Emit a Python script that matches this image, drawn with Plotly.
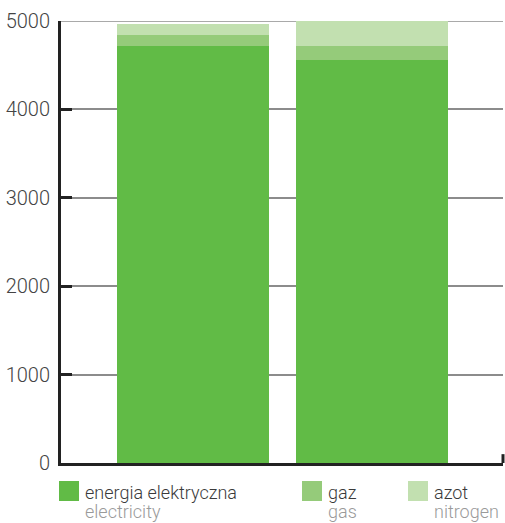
import plotly.graph_objects as go

# Stacked energy use per column (two columns, no category labels)
positions = [0, 1]
electricity = [4720, 4560]
gas = [125, 160]
nitrogen = [125, 280]

series_pl = ["energia elektryczna", "gaz", "azot"]
series_en = ["electricity", "gas", "nitrogen"]
colors = ["#61BB46", "#95CB7A", "#C2E0B0"]
y_ticks = [0, 1000, 2000, 3000, 4000, 5000]

fig = go.Figure()
for vals, name, col in zip([electricity, gas, nitrogen], series_pl, colors):
    fig.add_trace(go.Bar(x=positions, y=vals, name=name, marker=dict(color=col, line=dict(width=0)),
                         width=0.85, showlegend=False))

fig.update_layout(
    barmode="stack",
    width=505, height=523,
    margin=dict(l=61, r=2, t=21, b=60),
    paper_bgcolor="white", plot_bgcolor="white",
    font=dict(family="Roboto", color="#333333"),
    xaxis=dict(range=[-0.737, 1.732], showticklabels=False, showgrid=False, zeroline=False,
               showline=True, linecolor="#222222", linewidth=3, ticks=""),
    yaxis=dict(range=[0, 5000], tickvals=y_ticks, ticktext=[str(v) for v in y_ticks],
               showgrid=True, gridcolor="#8c8c8c", gridwidth=1.5, zeroline=False,
               showline=True, linecolor="#222222", linewidth=3,
               ticks="inside", ticklen=11, tickwidth=3, tickcolor="#222222",
               tickfont=dict(size=20, color="#444444", family="Roboto", weight=300),
               ticklabelstandoff=4),
)

# Top gridline at the range edge
fig.add_shape(type="line", xref="paper", yref="y", x0=0, x1=1, y0=5000, y1=5000,
              line=dict(color="#8c8c8c", width=1.5), layer="below")

# Small upward tick at the right end of the baseline
fig.add_shape(type="line", xref="paper", yref="paper", x0=1, x1=1, y0=0, y1=0.02,
              line=dict(color="#222222", width=3))

# Custom two-line legend below the plot
legend_x = [59, 302, 408]
for px, pl, en, col in zip(legend_x, series_pl, series_en, colors):
    fig.add_shape(type="rect", xref="paper", yref="paper",
                  x0=(px - 61) / 442, x1=(px + 20 - 61) / 442,
                  y0=-(501 - 463) / 442, y1=-(481 - 463) / 442,
                  fillcolor=col, line=dict(width=0))
    fig.add_annotation(xref="paper", yref="paper", x=(px + 24 - 61) / 442, y=-(492 - 463) / 442,
                       text=pl, showarrow=False, xanchor="left", yanchor="middle",
                       font=dict(size=18, color="#3a3a3a", family="Roboto", weight=300))
    fig.add_annotation(xref="paper", yref="paper", x=(px + 24 - 61) / 442, y=-(511 - 463) / 442,
                       text=en, showarrow=False, xanchor="left", yanchor="middle",
                       font=dict(size=18, color="#9a9a9a", family="Roboto", weight=300))

fig.write_html("out.html")
